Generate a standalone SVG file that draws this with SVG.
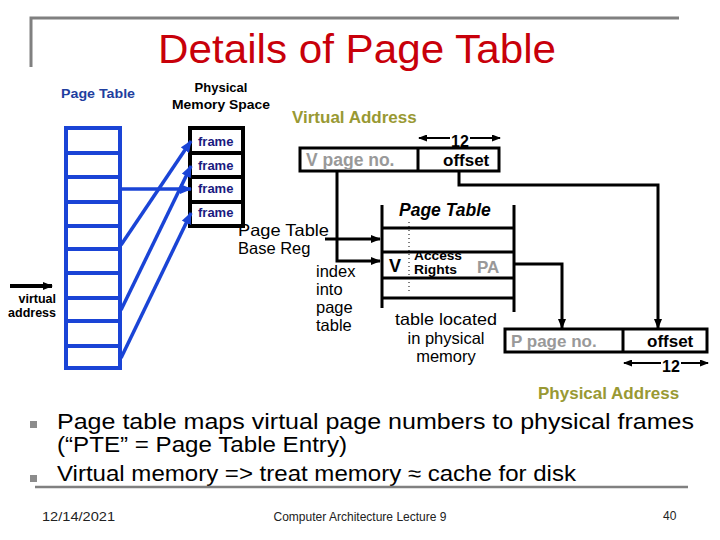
<svg xmlns="http://www.w3.org/2000/svg" width="720" height="540" viewBox="0 0 720 540">
<defs>
<marker id="ab" markerUnits="userSpaceOnUse" markerWidth="12" markerHeight="10" refX="11" refY="5" orient="auto"><path d="M0,0 L12,5 L0,10 z" fill="#1a44d6"/></marker>
<marker id="ak" markerUnits="userSpaceOnUse" markerWidth="10" markerHeight="10" refX="9" refY="5" orient="auto"><path d="M0,1 L10,5 L0,9 z" fill="#000"/></marker>
<marker id="as" markerUnits="userSpaceOnUse" markerWidth="9" markerHeight="7" refX="8" refY="3.5" orient="auto"><path d="M0,0 L9,3.5 L0,7 z" fill="#000"/></marker>
</defs>
<style>
text{font-family:"Liberation Sans",Arial,sans-serif}
.b{font-weight:bold}
.blue{stroke:#1a44d6;stroke-width:4;fill:none}
.k{stroke:#000;stroke-width:3;fill:none}
.gray{fill:#999999}
.olive{fill:#999933;font-weight:bold;font-size:17px}
.frame{fill:#1a1a80;font-weight:bold;font-size:13px}
.lbl{font-size:16.5px}
.bul{font-size:22px}
.foot{font-size:12px;fill:#222}
</style>

<g id="frame-border">
<path d="M31,67 V18 H679" stroke="#808080" stroke-width="3" fill="none"/>
</g>
<g id="title"><text x="158" y="63" font-size="40" fill="#c8000a" textLength="398" lengthAdjust="spacingAndGlyphs">Details of Page Table</text></g>

<g id="pt-left">
<text x="61" y="98" class="b" font-size="13.5" fill="#1f3f9f" textLength="74" lengthAdjust="spacingAndGlyphs">Page Table</text>
<rect x="66" y="128" width="54" height="240" class="blue" fill="#fff"/>
<path class="blue" d="M66,153H120M66,177H120M66,202H120M66,226H120M66,249H120M66,273H120M66,298H120M66,321H120M66,346H120"/>
</g>

<g id="phys-mem">
<text x="221" y="92" class="b" font-size="13" text-anchor="middle">Physical</text>
<text x="221" y="109" class="b" font-size="13" text-anchor="middle" textLength="98" lengthAdjust="spacingAndGlyphs">Memory Space</text>
<rect x="190" y="128" width="53" height="98" fill="#fff" stroke="#000" stroke-width="4"/>
<path d="M190,153H243M190,177H243M190,202H243" stroke="#000" stroke-width="4"/>
<text x="198" y="146" class="frame">frame</text>
<text x="198" y="170" class="frame">frame</text>
<text x="198" y="193" class="frame">frame</text>
<text x="198" y="217" class="frame">frame</text>
</g>

<g id="virtual-address-label">
<path d="M10,286 H52" stroke="#000" stroke-width="4" marker-end="url(#ak)"/>
<text x="56" y="303" class="b" font-size="12.5" text-anchor="end">virtual</text>
<text x="56" y="317" class="b" font-size="12.5" text-anchor="end">address</text>
</g>

<g id="va">
<text x="292" y="123" class="olive">Virtual Address</text>
<rect x="300" y="148" width="199" height="23" class="k"/>
<path d="M418,148V171" class="k"/>
<text x="306" y="166" class="b gray" font-size="17.5">V page no.</text>
<text x="443" y="166" class="b" font-size="17">offset</text>
<text x="460" y="147" class="b" font-size="16" text-anchor="middle">12</text>
<path d="M450,138H419" stroke="#000" stroke-width="2" marker-end="url(#as)"/>
<path d="M470,138H500" stroke="#000" stroke-width="2" marker-end="url(#as)"/>
</g>

<g id="ptbr">
<text x="238" y="236" class="lbl" textLength="91" lengthAdjust="spacingAndGlyphs">Page Table</text>
<text x="238" y="254" class="lbl">Base Reg</text>
</g>

<g id="index-label">
<text x="316" y="277" class="lbl">index</text>
<text x="316" y="295" class="lbl">into</text>
<text x="316" y="313" class="lbl">page</text>
<text x="316" y="331" class="lbl">table</text>
</g>

<g id="page-table">
<text x="399" y="216" class="b" font-style="italic" font-size="17.5">Page Table</text>
<path d="M382,205V308M514,205V312M382,228H514M382,252H514M382,278H514M382,298H514" class="k"/>
<path d="M409,222V292" stroke="#000" stroke-width="1" stroke-dasharray="1,3"/>
<text x="389" y="272" class="b" font-size="18">V</text>
<text x="414" y="260" class="b" font-size="12" textLength="48" lengthAdjust="spacingAndGlyphs">Access</text>
<text x="414" y="274" class="b" font-size="12" textLength="43" lengthAdjust="spacingAndGlyphs">Rights</text>
<text x="477" y="273" class="b gray" font-size="17">PA</text>
<text x="446" y="325" class="lbl" text-anchor="middle" textLength="102" lengthAdjust="spacingAndGlyphs">table located</text>
<text x="446" y="344" class="lbl" text-anchor="middle">in physical</text>
<text x="446" y="362" class="lbl" text-anchor="middle">memory</text>
</g>

<g id="pa">
<rect x="505" y="329" width="202" height="23" class="k"/>
<path d="M623,329V352" class="k"/>
<text x="511" y="347" class="b gray" font-size="17">P page no.</text>
<text x="647" y="347" class="b" font-size="17">offset</text>
<text x="671" y="372" class="b" font-size="16" text-anchor="middle">12</text>
<path d="M661,363H624" stroke="#000" stroke-width="2" marker-end="url(#as)"/>
<path d="M681,363H708" stroke="#000" stroke-width="2" marker-end="url(#as)"/>
<text x="538" y="399" class="olive">Physical Address</text>
</g>

<g id="connectors">
<path d="M121,189H191" stroke="#1a44d6" stroke-width="3.5" marker-end="url(#ab)"/>
<path d="M121,245L191,141" stroke="#1a44d6" stroke-width="3.5" marker-end="url(#ab)"/>
<path d="M121,310L191,166" stroke="#1a44d6" stroke-width="3.5" marker-end="url(#ab)"/>
<path d="M121,358L191,213" stroke="#1a44d6" stroke-width="3.5" marker-end="url(#ab)"/>
<path d="M459,171V185H658V328" class="k" marker-end="url(#ak)"/>
<path d="M514,264H562V328" class="k" marker-end="url(#ak)"/>
<path d="M337,171V261H380" class="k" marker-end="url(#ak)"/>
<path d="M325,239H380" class="k" marker-end="url(#ak)"/>
</g>

<g id="bullets">
<rect x="30" y="421" width="7" height="7" fill="#8c8c8c"/>
<rect x="30" y="475" width="7" height="7" fill="#8c8c8c"/>
<text x="57" y="429" class="bul" textLength="637" lengthAdjust="spacingAndGlyphs">Page table maps virtual page numbers to physical frames</text>
<text x="57" y="452" class="bul" textLength="290" lengthAdjust="spacingAndGlyphs">(“PTE” = Page Table Entry)</text>
<text x="57" y="481" class="bul" textLength="519" lengthAdjust="spacingAndGlyphs">Virtual memory =&gt; treat memory ≈ cache for disk</text>
<path d="M35,487H688" stroke="#808080" stroke-width="2.5"/>
</g>

<g id="footer">
<text x="42" y="521" class="foot" textLength="73" lengthAdjust="spacingAndGlyphs">12/14/2021</text>
<text x="360" y="521" class="foot" text-anchor="middle" textLength="173" lengthAdjust="spacingAndGlyphs">Computer Architecture Lecture 9</text>
<text x="663" y="520" class="foot">40</text>
</g>
</svg>
